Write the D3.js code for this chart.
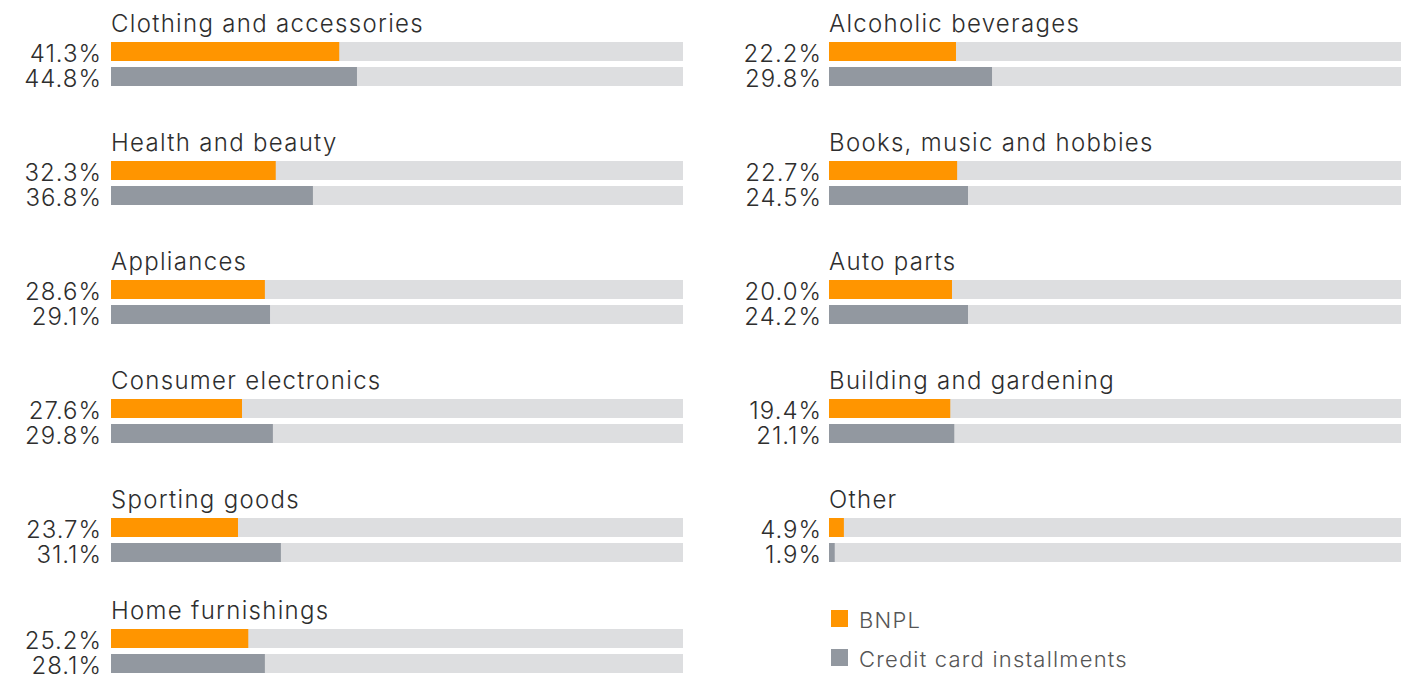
<!DOCTYPE html>
<html>
<head>
<meta charset="utf-8">
<script src="https://cdn.jsdelivr.net/npm/d3@7"></script>
<style>
    body { margin: 0; background: #fff; }
    #chart { width: 1414px; height: 675px; }
    text { font-family: Inter, "Noto Sans", sans-serif; }
</style>
</head>
<body>
<div id="chart"></div>
<script>
// categories, in reading order (left column first, then right column)
const categories = [
    "Clothing and accessories", "Health and beauty", "Appliances",
    "Consumer electronics", "Sporting goods", "Home furnishings",
    "Alcoholic beverages", "Books, music and hobbies", "Auto parts",
    "Building and gardening", "Other"
];

// printed values
const bnplLabels   = ["41.3%", "32.3%", "28.6%", "27.6%", "23.7%", "25.2%", "22.2%", "22.7%", "20.0%", "19.4%", "4.9%"];
const creditLabels = ["44.8%", "36.8%", "29.1%", "29.8%", "31.1%", "28.1%", "29.8%", "24.5%", "24.2%", "21.1%", "1.9%"];

// bar lengths as drawn in the picture (percent of the full track)
const bnplBars   = [39.9, 28.8, 26.9, 22.9, 22.2, 24.0, 22.2, 22.4, 21.5, 21.2, 2.6];
const creditBars = [43.0, 35.3, 27.8, 28.3, 29.7, 26.9, 28.5, 24.3, 24.3, 21.9, 1.0];

const seriesNames = ["BNPL", "Credit card installments"];
const colors = { bnpl: "#ff9500", credit: "#9298a0", track: "#dddee0", text: "#2e2e2e", legend: "#555555" };

const width = 1414, height = 675;
const rowsPerCol = 6;
const rowPitch = 119;
const barH = 19, barGap = 6;
const panelH = barH * 2 + barGap;

// column offsets (track start), label gap and track width
const colX = [111, 829];
const labelGap = [10, 8];
const trackW = 572;

const x = d3.scaleLinear().domain([0, 100]).range([0, trackW]);

const data = categories.map((c, i) => ({
    name: c,
    col: Math.floor(i / rowsPerCol),
    row: i % rowsPerCol,
    bars: [
        { key: "bnpl", value: bnplBars[i], label: bnplLabels[i], col: Math.floor(i / rowsPerCol) },
        { key: "credit", value: creditBars[i], label: creditLabels[i], col: Math.floor(i / rowsPerCol) }
    ]
}));

const svg = d3.select("#chart").append("svg")
    .attr("width", width)
    .attr("height", height);

// top of each panel's bars; the last row is pushed up to fit the page
const rowTop = r => Math.min(42 + r * rowPitch, height - 2 - panelH);

const panels = svg.selectAll("g.panel")
    .data(data)
    .enter()
    .append("g")
    .attr("class", "panel")
    .attr("transform", d => `translate(${colX[d.col]}, ${rowTop(d.row)})`);

// panel title
panels.append("text")
    .attr("x", 0)
    .attr("y", -10)
    .attr("fill", colors.text)
    .style("font-size", "24px")
    .style("font-weight", 300)
    .style("letter-spacing", "1.3px")
    .text(d => d.name);

const rows = panels.selectAll("g.bar")
    .data(d => d.bars)
    .enter()
    .append("g")
    .attr("class", "bar")
    .attr("transform", (d, i) => `translate(0, ${i * (barH + barGap)})`);

// background track
rows.append("rect")
    .attr("width", x(100))
    .attr("height", barH)
    .attr("fill", colors.track);

// value bar
rows.append("rect")
    .attr("width", d => x(d.value))
    .attr("height", barH)
    .attr("fill", d => colors[d.key]);

// value labels on the left (letter-spacing adds a trailing gap, so shift back)
rows.append("text")
    .attr("x", d => -labelGap[d.col] + 1)
    .attr("y", barH + 1)
    .attr("text-anchor", "end")
    .attr("fill", colors.text)
    .style("font-size", "24px")
    .style("font-weight", 300)
    .style("letter-spacing", "1px")
    .text(d => d.label);

// legend
const legend = svg.append("g")
    .attr("transform", `translate(831, 610)`);

const items = legend.selectAll("g")
    .data(seriesNames)
    .enter()
    .append("g")
    .attr("transform", (d, i) => `translate(0, ${i * 39})`);

items.append("rect")
    .attr("width", 17)
    .attr("height", 17)
    .attr("fill", (d, i) => i === 0 ? colors.bnpl : colors.credit);

items.append("text")
    .attr("x", 28)
    .attr("y", 10)
    .attr("dy", "0.35em")
    .attr("fill", colors.legend)
    .style("font-size", "22px")
    .style("font-weight", 300)
    .style("letter-spacing", "1.2px")
    .text(d => d);
</script>
</body>
</html>
